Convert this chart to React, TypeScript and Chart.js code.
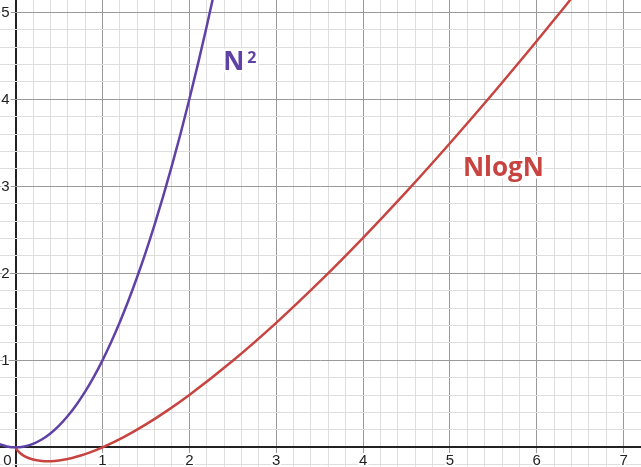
import React, { useEffect, useRef } from "react";
import { Chart, registerables } from "chart.js";

Chart.register(...registerables);

// Values
const squareX = [-0.2, -0.1, 0, 0.1, 0.2, 0.3, 0.4, 0.5, 0.6, 0.7, 0.8, 0.9, 1.0, 1.1, 1.2, 1.3, 1.4, 1.5, 1.6, 1.7, 1.8, 1.9, 2.0, 2.1, 2.2, 2.3];
const squareY = [0.04, 0.01, 0, 0.01, 0.04, 0.09, 0.16, 0.25, 0.36, 0.49, 0.64, 0.81, 1.0, 1.21, 1.44, 1.69, 1.96, 2.25, 2.56, 2.89, 3.24, 3.61, 4.0, 4.41, 4.84, 5.29];

const nlognX = [0, 0.005, 0.01, 0.02, 0.05, 0.1, 0.2, 0.3, 0.37, 0.45, 0.55, 0.65, 0.75, 0.85, 1.0, 1.25, 1.5, 1.75, 2.0, 2.5, 3.0, 3.5, 4.0, 4.5, 5.0, 5.5, 6.0, 6.5];
const nlognY = [0, -0.0115, -0.02, -0.034, -0.065, -0.1, -0.14, -0.157, -0.16, -0.156, -0.143, -0.122, -0.094, -0.06, 0, 0.121, 0.264, 0.425, 0.602, 0.995, 1.431, 1.904, 2.408, 2.939, 3.495, 4.072, 4.669, 5.284];

const xTickLabels = ["0", "1", "2", "3", "4", "5", "6", "7"];
const yTickLabels = ["1", "2", "3", "4", "5"];

const seriesNames = ["N²", "NlogN"];

const X_MIN = -0.18;
const X_MAX = 7.2;
const Y_MIN = -0.226;
const Y_MAX = 5.141;

const PURPLE = "#6042a6";
const RED = "#c74440";

function toPoints(xs: number[], ys: number[]) {
  return xs.map((x, i) => ({ x, y: ys[i] }));
}

function gridColor(v: number) {
  const r = Math.round(v * 5);
  if (Math.abs(v * 5 - r) > 1e-6) return "rgba(0,0,0,0)";
  if (r === 0) return "#222222";
  if (r % 5 === 0) return "#9a9a9a";
  return "#dedede";
}
function gridWidth(v: number) {
  return Math.abs(v) < 1e-6 ? 2 : 1;
}

function buildTicks(min: number, max: number) {
  const out: { value: number }[] = [];
  for (let k = Math.ceil(min * 5); k <= Math.floor(max * 5); k++) {
    out.push({ value: k / 5 });
  }
  return out;
}

const labelPlugin = {
  id: "labels",
  afterDatasetsDraw(chart: any) {
    const ctx = chart.ctx;
    const xs = chart.scales.x;
    const ys = chart.scales.y;
    const x0 = xs.getPixelForValue(0);
    const y0 = ys.getPixelForValue(0);
    ctx.save();
    ctx.font = "15px 'Liberation Sans', Arial, sans-serif";
    ctx.lineJoin = "round";
    ctx.strokeStyle = "#ffffff";
    ctx.lineWidth = 4;
    ctx.fillStyle = "#222222";
    // x labels
    ctx.textBaseline = "alphabetic";
    xTickLabels.forEach((t) => {
      const v = Number(t);
      let px = xs.getPixelForValue(v);
      ctx.textAlign = v === 0 ? "right" : "center";
      if (v === 0) px -= 4;
      ctx.strokeText(t, px, y0 + 18);
      ctx.fillText(t, px, y0 + 18);
    });
    // y labels
    ctx.textAlign = "right";
    ctx.textBaseline = "alphabetic";
    yTickLabels.forEach((t) => {
      const v = Number(t);
      const py = ys.getPixelForValue(v);
      ctx.strokeText(t, x0 - 6, py + 5);
      ctx.fillText(t, x0 - 6, py + 5);
    });
    // series labels
    ctx.font = "bold 26px 'Open Sans', Arial, sans-serif";
    ctx.textAlign = "left";
    ctx.textBaseline = "alphabetic";
    ctx.lineWidth = 5;
    const l1x = xs.getPixelForValue(2.39);
    const l1y = ys.getPixelForValue(4.34);
    const base = seriesNames[0].charAt(0);
    ctx.fillStyle = PURPLE;
    ctx.strokeText(base, l1x, l1y);
    ctx.fillText(base, l1x, l1y);
    const w = ctx.measureText(base).width;
    ctx.font = "bold 16px 'Open Sans', Arial, sans-serif";
    ctx.strokeText("2", l1x + w + 3, l1y - 7);
    ctx.fillText("2", l1x + w + 3, l1y - 7);
    ctx.font = "bold 26px 'Open Sans', Arial, sans-serif";
    const l2x = xs.getPixelForValue(5.15);
    const l2y = ys.getPixelForValue(3.12);
    ctx.fillStyle = RED;
    ctx.strokeText(seriesNames[1], l2x, l2y);
    ctx.fillText(seriesNames[1], l2x, l2y);
    ctx.restore();
  },
};

export default function App() {
  const ref = useRef<HTMLCanvasElement | null>(null);
  useEffect(() => {
    document.body.style.margin = "0";
    const canvas = ref.current;
    if (!canvas) return;
    const chart = new Chart(canvas, {
      type: "scatter",
      data: {
        datasets: [
          {
            label: seriesNames[0],
            data: toPoints(squareX, squareY),
            showLine: true,
            borderColor: PURPLE,
            borderWidth: 2.5,
            pointRadius: 0,
            cubicInterpolationMode: "monotone",
            fill: false,
          },
          {
            label: seriesNames[1],
            data: toPoints(nlognX, nlognY),
            showLine: true,
            borderColor: RED,
            borderWidth: 2.5,
            pointRadius: 0,
            cubicInterpolationMode: "monotone",
            fill: false,
          },
        ],
      },
      options: {
        animation: false,
        responsive: false,
        maintainAspectRatio: false,
        devicePixelRatio: 1,
        layout: { padding: 0 },
        plugins: { legend: { display: false }, tooltip: { enabled: false } },
        events: [],
        scales: {
          x: {
            type: "linear",
            min: X_MIN,
            max: X_MAX,
            afterBuildTicks: (s: any) => {
              s.ticks = buildTicks(X_MIN, X_MAX);
            },
            border: { display: false },
            ticks: { display: false },
            grid: {
              drawTicks: false,
              tickLength: 0,
              color: (c: any) => gridColor(c.tick ? c.tick.value : 0.1),
              lineWidth: (c: any) => gridWidth(c.tick ? c.tick.value : 0.1),
            },
          },
          y: {
            type: "linear",
            min: Y_MIN,
            max: Y_MAX,
            afterBuildTicks: (s: any) => {
              s.ticks = buildTicks(Y_MIN, Y_MAX);
            },
            border: { display: false },
            ticks: { display: false },
            grid: {
              drawTicks: false,
              tickLength: 0,
              color: (c: any) => gridColor(c.tick ? c.tick.value : 0.1),
              lineWidth: (c: any) => gridWidth(c.tick ? c.tick.value : 0.1),
            },
          },
        },
      },
      plugins: [labelPlugin],
    } as any);
    return () => chart.destroy();
  }, []);
  return (
    <div style={{ width: 641, height: 467, background: "#fff" }}>
      <canvas ref={ref} width={641} height={467} style={{ display: "block" }} />
    </div>
  );
}
